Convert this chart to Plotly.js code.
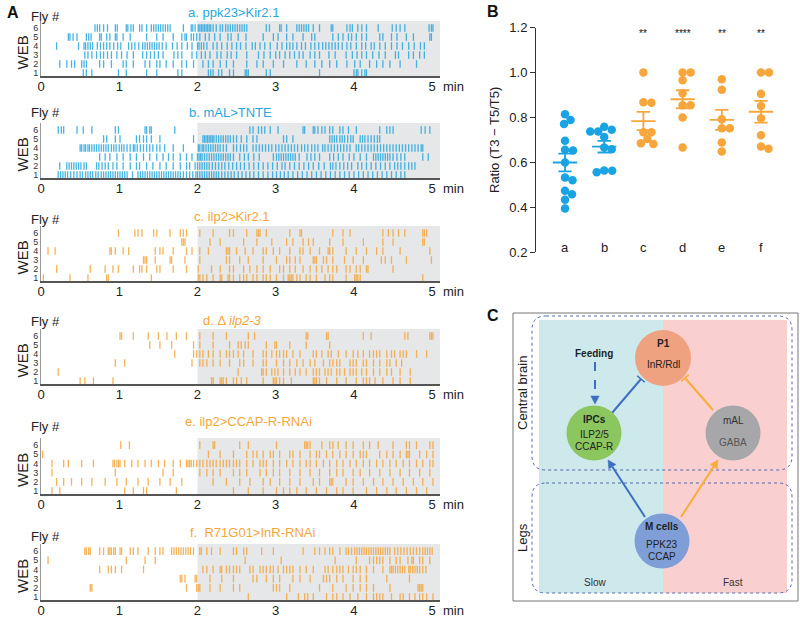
<!DOCTYPE html>
<html><head><meta charset="utf-8">
<script src="https://cdn.plot.ly/plotly-3.0.1.min.js"></script>
<style>html,body{margin:0;padding:0;background:#fff}#chart{width:800px;height:619px}</style>
</head><body><div id="chart"></div>
<script>
// ---------------- DATA ----------------
const timeTicks = [0, 1, 2, 3, 4, 5];
const flyTicks = [1, 2, 3, 4, 5, 6];
const panelTitles = ['a. ppk23>Kir2.1', 'b. mAL>TNTE', 'c. ilp2>Kir2.1', 'd. \u0394 <i>ilp2-3</i>', 'e. ilp2>CCAP-R-RNAi', 'f.  R71G01>InR-RNAi'];

// Raster event times (min); each array lists flies 1..6
const rasterA = [
  [0.54,0.58,0.65,0.99,1.09,1.35,1.48,1.75,1.80,2.14,2.17,2.20,2.27,2.31,2.41,2.46,2.61,2.63,2.65,2.88,2.93,3.56,4.00,4.03,4.05,4.10,4.14,4.16],
  [0.24,0.33,0.39,0.43,0.52,0.55,0.58,0.75,0.80,0.90,1.05,1.09,1.18,1.33,1.39,1.48,1.52,1.60,1.69,1.80,1.86,1.95,2.07,2.14,2.20,2.29,2.37,2.46,2.63,2.76,2.84,2.97,3.10,3.27,3.39,3.50,3.59,3.69,3.78,3.91,4.01,4.08,4.20,4.29,4.37,4.46,4.59,4.80],
  [0.56,0.60,0.65,0.71,0.76,0.80,0.85,0.90,0.97,1.03,1.10,1.18,1.30,1.35,1.40,1.45,1.50,1.56,1.70,1.75,1.80,1.93,1.99,2.05,2.10,2.16,2.25,2.30,2.38,2.43,2.50,2.63,2.78,2.85,2.93,3.00,3.05,3.12,3.18,3.24,3.30,3.35,3.44,3.50,3.56,3.68,3.76,3.90,3.98,4.04,4.10,4.16,4.24,4.32,4.40,4.53,4.57,4.70,4.76,4.84,4.90],
  [0.20,0.48,0.55,0.57,0.60,0.63,0.66,0.72,0.76,0.80,0.84,0.88,0.93,0.98,1.02,1.12,1.16,1.20,1.25,1.30,1.33,1.36,1.39,1.42,1.45,1.48,1.51,1.55,1.60,1.68,1.74,1.80,1.87,1.93,2.00,2.02,2.05,2.08,2.12,2.20,2.25,2.31,2.38,2.44,2.50,2.55,2.62,2.70,2.74,2.80,2.86,2.93,3.02,3.08,3.14,3.18,3.22,3.27,3.33,3.38,3.45,3.50,3.55,3.60,3.64,3.68,3.72,3.76,3.80,3.85,3.91,3.96,4.03,4.10,4.15,4.22,4.26,4.33,4.40,4.48,4.55,4.62,4.70,4.77,4.85,4.90],
  [0.35,0.37,0.41,0.46,0.58,0.61,0.64,0.75,0.77,0.84,0.88,0.95,0.97,1.05,1.14,1.35,1.48,1.56,1.69,1.80,1.84,1.86,1.92,1.95,1.99,2.03,2.10,2.15,2.22,2.29,2.39,2.43,2.52,2.62,2.84,2.97,3.03,3.14,3.22,3.35,3.46,3.50,3.73,3.80,3.86,3.93,3.97,4.03,4.10,4.16,4.33,4.37,4.48,4.55,4.67,4.76,4.97,4.99],
  [0.69,0.72,0.75,0.80,0.85,0.95,0.975,1.09,1.11,1.15,1.18,1.26,1.29,1.35,1.41,1.44,1.47,1.50,1.53,1.56,1.59,1.62,1.65,1.82,1.92,1.94,1.97,2.01,2.03,2.05,2.07,2.09,2.11,2.13,2.15,2.17,2.20,2.24,2.29,2.32,2.36,2.39,2.42,2.45,2.48,2.51,2.54,2.57,2.60,2.63,2.88,2.92,3.05,3.07,3.14,3.27,3.30,3.33,3.36,3.39,3.42,3.48,3.56,3.71,3.73,3.91,3.95,3.98,4.05,4.10,4.16,4.31,4.49,4.54,4.59,4.65,4.96,4.99,5.01]
];
const rasterB = [
  [0.22,0.25,0.28,0.31,0.34,0.38,0.42,0.46,0.50,0.53,0.57,0.60,0.63,0.66,0.70,0.73,0.77,0.80,0.83,0.86,0.89,0.92,0.95,0.98,1.01,1.04,1.07,1.10,1.17,1.24,1.27,1.30,1.33,1.36,1.39,1.42,1.45,1.48,1.51,1.54,1.57,1.60,1.63,1.66,1.69,1.72,1.75,1.78,1.82,1.86,1.90,1.94,1.98,2.00,2.03,2.06,2.09,2.12,2.15,2.18,2.21,2.24,2.27,2.31,2.35,2.39,2.43,2.47,2.52,2.57,2.62,2.67,2.72,2.78,2.84,2.90,2.96,3.01,3.06,3.11,3.16,3.22,3.28,3.34,3.40,3.46,3.52,3.58,3.64,3.70,3.76,3.82,3.88,3.94,4.00,4.06,4.12,4.18,4.24,4.30,4.36,4.42,4.48,4.54,4.60,4.65],
  [0.24,0.33,0.36,0.39,0.42,0.45,0.48,0.51,0.55,0.58,0.71,0.74,0.78,0.82,0.86,0.92,0.97,1.05,1.14,1.22,1.26,1.35,1.43,1.52,1.60,1.69,1.78,1.86,1.90,1.97,2.00,2.03,2.06,2.09,2.12,2.15,2.19,2.23,2.27,2.31,2.35,2.40,2.45,2.50,2.55,2.60,2.66,2.72,2.78,2.84,2.90,2.96,3.02,3.08,3.12,3.18,3.24,3.30,3.36,3.42,3.48,3.55,3.62,3.70,3.73,3.77,3.82,3.87,3.92,3.97,4.05,4.10,4.16,4.22,4.28,4.34,4.40,4.46,4.52,4.56,4.60,4.65,4.70,4.74,4.78],
  [0.75,0.82,0.88,0.97,1.05,1.14,1.22,1.31,1.39,1.48,1.56,1.63,1.69,1.78,1.86,1.93,2.00,2.02,2.04,2.06,2.09,2.12,2.15,2.18,2.21,2.24,2.27,2.30,2.33,2.36,2.39,2.42,2.46,2.54,2.60,2.65,2.72,2.79,2.97,3.01,3.04,3.07,3.10,3.13,3.16,3.19,3.22,3.25,3.30,3.40,3.45,3.50,3.56,3.69,3.74,3.80,3.86,3.94,4.00,4.08,4.16,4.25,4.28,4.31,4.34,4.37,4.40,4.43,4.46,4.50,4.55,4.60,4.65,4.88,4.95],
  [0.50,0.52,0.55,0.57,0.60,0.62,0.65,0.68,0.71,0.74,0.77,0.80,0.83,0.86,0.90,0.93,0.96,1.00,1.03,1.06,1.10,1.14,1.18,1.20,1.23,1.27,1.31,1.35,1.39,1.43,1.48,1.52,1.58,1.69,1.82,2.01,2.03,2.06,2.08,2.11,2.14,2.17,2.20,2.23,2.26,2.29,2.33,2.37,2.46,2.50,2.55,2.59,2.63,2.71,2.75,2.79,2.83,2.87,2.91,2.95,3.00,3.04,3.08,3.12,3.16,3.20,3.24,3.28,3.33,3.37,3.41,3.46,3.50,3.54,3.60,3.63,3.67,3.71,3.75,3.79,3.83,3.87,3.91,3.95,4.03,4.06,4.10,4.14,4.18,4.22,4.26,4.30,4.34,4.38,4.42,4.46,4.50,4.54,4.58,4.62,4.66,4.70,4.74,4.78,4.82,4.86,4.88],
  [0.80,0.84,0.95,1.01,1.22,1.26,1.31,1.35,1.41,1.52,1.95,2.07,2.09,2.11,2.13,2.15,2.17,2.19,2.21,2.24,2.27,2.30,2.33,2.36,2.39,2.42,2.46,2.50,2.56,2.63,2.71,2.76,3.10,3.14,3.22,3.69,3.72,3.75,3.78,3.82,3.85,3.88,3.92,3.96,3.99,4.08,4.11,4.14,4.18,4.22,4.26,4.30,4.33],
  [0.22,0.26,0.29,0.46,0.54,0.65,0.95,0.99,1.33,1.35,1.39,1.41,1.71,2.67,2.71,2.78,2.82,2.86,2.93,3.03,3.35,3.37,3.48,3.50,3.54,3.59,3.63,3.69,3.73,3.82,3.86,3.93,4.03,4.33,4.42,4.46,4.50,4.86,4.91,4.97]
];
const rasterC = [
  [0.03,0.37,0.60,0.84,0.86,1.41,2.01,2.03,2.07,2.12,2.20,2.29,2.31,2.39,2.41,2.46,2.54,2.59,2.63,2.71,2.76,2.84,2.88,2.93,3.01,3.10,3.16,3.18,3.20,3.22,3.27,3.31,3.39,3.44,3.52,3.63,3.69,3.73,3.90,4.01,4.03,4.05,4.08,4.88],
  [0.20,0.63,0.82,0.92,0.99,1.18,1.26,1.29,1.35,1.48,1.52,1.69,1.86,2.01,2.18,2.29,2.41,2.46,2.59,2.67,2.76,2.84,2.93,3.05,3.10,3.18,3.25,3.35,3.44,3.52,3.59,3.67,3.73,3.78,3.90,3.95,4.03,4.08,4.16,4.18,4.50],
  [1.31,1.33,1.35,1.46,1.65,1.67,1.84,2.03,2.37,2.41,2.54,2.65,2.84,3.01,3.14,3.18,3.25,3.31,3.48,3.50,3.52,3.61,3.65,3.73,3.88,3.99,4.12,4.35,4.40,4.48,4.67,4.99],
  [0.09,0.18,0.88,0.90,0.95,1.05,1.12,1.46,1.52,1.56,1.69,1.86,1.93,2.03,2.14,2.37,2.39,2.41,2.50,2.61,2.71,2.84,2.88,2.97,3.05,3.18,3.31,3.35,3.44,3.56,3.67,3.69,3.73,3.90,4.03,4.16,4.29,4.37,4.59,4.97],
  [1.80,1.82,1.84,2.16,2.29,2.59,2.76,2.95,3.14,3.22,3.35,3.42,3.48,3.69,3.86,4.12,4.37,4.50,4.88,4.90],
  [0.99,1.20,1.24,1.29,1.44,1.48,1.65,1.78,1.82,1.86,2.03,2.20,2.41,2.46,2.63,2.76,2.78,2.80,2.88,3.18,3.31,3.33,3.73,3.86,3.95,4.37,4.44,4.50,4.57,4.65,4.88,4.90,4.93]
];
const rasterD = [
  [0.50,0.56,0.67,0.92,2.18,2.20,2.29,2.31,2.33,2.37,2.46,2.50,2.56,2.63,2.84,2.97,2.99,3.01,3.05,3.10,3.20,3.48,3.50,3.52,3.56,3.65,3.78,3.90,4.03,4.12,4.16,4.20,4.27,4.37,4.50,4.59,4.72],
  [0.22,2.52,2.82,2.84,2.88,2.95,2.99,3.03,3.10,3.18,3.25,3.31,3.39,3.48,3.52,3.56,3.63,3.67,3.71,3.78,3.82,3.88,3.95,3.99,4.03,4.10,4.16,4.25,4.33,4.42,4.48,4.59,4.72],
  [0.95,1.07,1.93,2.03,2.07,2.12,2.20,2.29,2.41,2.54,2.59,2.71,2.84,2.88,3.01,3.10,3.18,3.27,3.35,3.44,3.50,3.61,3.69,3.73,3.78,3.82,3.95,3.99,4.03,4.12,4.16,4.25,4.33,4.42,4.46,4.54,4.61],
  [1.71,1.95,1.99,2.03,2.07,2.14,2.20,2.29,2.37,2.41,2.46,2.52,2.59,2.71,2.84,2.88,2.95,3.01,3.05,3.10,3.14,3.22,3.31,3.48,3.52,3.59,3.67,3.71,3.80,3.90,3.99,4.05,4.12,4.20,4.25,4.29,4.33,4.42,4.48,4.52,4.59,4.63,4.67,4.80,4.93],
  [1.39,1.52,1.67,1.95,2.03,2.20,2.41,2.52,2.56,2.61,2.65,2.88,2.99,3.01,3.18,3.39,3.69],
  [1.01,1.03,1.18,1.37,1.50,1.61,1.73,1.86,2.03,2.20,2.37,2.65,2.73,3.39,3.41,3.65,3.67,4.12,4.22,4.65,4.69,4.97,4.99,5.01]
];
const rasterE = [
  [0.14,0.24,1.07,1.18,1.31,1.35,1.73,2.46,2.65,2.84,3.01,3.10,3.18,3.27,3.39,3.52,3.65,3.78,3.86,3.99,4.16,4.29,4.42,4.54,4.67,4.80,4.93],
  [0.20,0.29,0.39,0.52,0.65,0.82,0.97,1.09,1.24,1.37,1.52,1.65,1.80,2.20,2.37,2.54,2.67,2.84,2.93,3.05,3.18,3.31,3.48,3.56,3.69,3.71,3.73,3.90,3.99,4.12,4.25,4.37,4.50,4.63,4.76,4.88,5.01],
  [0.14,0.95,1.56,1.69,2.03,2.12,2.20,2.29,2.46,2.54,2.63,2.80,2.88,2.97,3.05,3.18,3.31,3.44,3.56,3.69,3.78,3.86,3.99,4.08,4.20,4.33,4.46,4.59,4.71,4.84,4.97],
  [0.14,0.29,0.35,0.52,0.67,0.92,0.94,0.97,0.99,1.01,1.07,1.16,1.24,1.33,1.41,1.50,1.58,1.69,1.78,1.86,1.88,1.90,1.92,1.95,1.99,2.03,2.07,2.12,2.16,2.20,2.24,2.29,2.33,2.37,2.41,2.46,2.50,2.54,2.63,2.71,2.80,2.84,2.88,2.97,3.05,3.14,3.22,3.31,3.39,3.44,3.52,3.61,3.69,3.78,3.86,3.95,4.03,4.12,4.20,4.29,4.37,4.46,4.54,4.63,4.71,4.80,4.88,4.97,5.01],
  [0.02,2.14,2.29,2.46,2.63,2.71,2.76,2.84,2.93,2.97,3.05,3.18,3.22,3.31,3.44,3.52,3.56,3.65,3.73,3.82,3.90,3.99,4.08,4.12,4.16,4.33,4.42,4.50,4.59,4.67,4.69,4.71,4.84,4.93,5.01],
  [1.02,1.13,2.03,2.20,2.22,2.54,2.65,3.01,3.37,3.39,3.41,3.44,3.59,3.69,3.73,3.80,3.90,3.99,4.12,4.20,4.31,4.50,4.67,4.71,4.80,4.97,5.01]
];
const rasterF = [
  [2.65,3.14,3.29,3.37,3.41,3.48,3.65,3.73,3.78,3.86,3.95,4.05,4.16,4.25,4.29,4.33,4.37,4.48,4.59,4.63,4.71,4.78,4.84,4.88,4.93,5.01],
  [0.63,0.65,1.86,1.99,2.01,2.03,2.16,2.29,2.46,2.54,2.97,3.01,3.05,3.18,3.56,3.73,3.90,3.99,4.08,4.16,4.25,4.46,4.82,4.84,4.86,4.88],
  [1.78,1.80,1.84,1.97,1.99,2.16,2.31,2.46,2.71,2.76,2.88,2.97,3.05,3.22,3.31,3.44,3.61,3.65,3.69,3.78,3.86,3.99,4.08,4.16,4.42,4.71],
  [0.75,0.86,0.90,0.95,1.03,1.31,2.07,2.12,2.20,2.29,2.31,2.37,2.41,2.46,2.50,2.54,2.67,2.71,2.80,2.84,2.88,2.93,2.97,3.03,3.10,3.14,3.18,3.22,3.31,3.39,3.48,3.63,3.67,3.73,3.78,3.82,3.86,3.93,3.99,4.03,4.08,4.16,4.25,4.37,4.46,4.48,4.50,4.53,4.56,4.59,4.62,4.65,4.70,4.72,4.75,4.78,4.81,4.84,4.88,4.92],
  [0.09,1.09,1.33,1.46,2.61,3.07,3.76,4.03,4.20,4.25,4.29,4.33,4.37,4.46,4.54,4.59,4.69,4.74,4.76,4.84,4.88,4.97],
  [0.56,0.58,0.61,0.63,0.75,0.80,0.86,0.88,0.90,0.93,0.95,1.01,1.03,1.14,1.18,1.24,1.37,1.46,1.52,1.56,1.67,1.70,1.73,1.76,1.79,1.82,1.85,1.88,1.91,1.95,2.03,2.05,2.12,2.18,2.29,2.46,2.50,2.59,2.63,2.82,2.97,3.35,3.50,3.56,3.63,3.69,3.73,3.82,3.90,3.93,3.97,4.01,4.04,4.07,4.10,4.13,4.16,4.19,4.22,4.25,4.28,4.31,4.34,4.37,4.40,4.43,4.46,4.52,4.56,4.60,4.64,4.68,4.72,4.76,4.80,4.84,4.88,4.91,4.94,4.97,5.00]
];

// Panel B: ratio values per group
const groupNames = ['a', 'b', 'c', 'd', 'e', 'f'];
const ratioA = [0.814,0.771,0.789,0.696,0.653,0.656,0.599,0.532,0.520,0.473,0.457,0.433,0.394];
const ratioB = [0.737,0.737,0.745,0.758,0.713,0.666,0.658,0.556,0.563,0.562];
const ratioC = [1.0,0.868,0.865,0.734,0.734,0.681,0.704,0.685];
const ratioD = [1.0,1.0,0.966,0.908,0.854,0.854,0.800,0.666];
const ratioE = [0.970,0.923,0.792,0.752,0.752,0.688,0.648];
const ratioF = [1.0,1.0,0.905,0.851,0.796,0.721,0.660,0.670];
const sigLabels = ['', '', '**', '****', '**', '**'];
const ratioTicks = [0.2, 0.4, 0.6, 0.8, 1.0, 1.2];

// ---------------- STYLE / LAYOUT ----------------
const FONT = 'Liberation Sans, Arial, sans-serif';
const BLUE = '#27A8E0', ORANGE = '#F6A63A';
const W = 800, H = 619;
const dom = (top, bot) => [1 - bot / H, 1 - top / H];

const panels = [
  {rows: rasterA, color: BLUE,   top: 21,  bot: 76,  titleY: 12,  flyY: 16,  tx: 233},
  {rows: rasterB, color: BLUE,   top: 123, bot: 178, titleY: 112, flyY: 112, tx: 230},
  {rows: rasterC, color: ORANGE, top: 226, bot: 281, titleY: 216, flyY: 219, tx: 232},
  {rows: rasterD, color: ORANGE, top: 329, bot: 384, titleY: 320, flyY: 321, tx: 232},
  {rows: rasterE, color: ORANGE, top: 438, bot: 494, titleY: 421, flyY: 426, tx: 248},
  {rows: rasterF, color: ORANGE, top: 544, bot: 600, titleY: 532, flyY: 536, tx: 252}
];

const traces = [];
const shapes = [];
const annotations = [];
const layout = {
  width: W, height: H, autosize: false,
  margin: {l: 0, r: 0, t: 0, b: 0, pad: 0},
  paper_bgcolor: '#fff', plot_bgcolor: 'rgba(0,0,0,0)',
  font: {family: FONT, color: '#222'},
  showlegend: false, hovermode: false
};
const A = (x, y, text, opts) => annotations.push(Object.assign({xref: 'x8', yref: 'y8', x, y, text, showarrow: false, font: {family: FONT, size: 13, color: '#222'}}, opts || {}));

panels.forEach((p, k) => {
  const n = k + 1;
  const xa = n === 1 ? 'x' : 'x' + n, ya = n === 1 ? 'y' : 'y' + n;
  const x = [], y = [];
  p.rows.forEach((times, i) => {
    const fly = flyTicks[i];
    times.forEach(t => { x.push(t, t, null); y.push(fly - 0.42, fly + 0.42, null); });
  });
  traces.push({type: 'scatter', mode: 'lines', x, y, xaxis: xa, yaxis: ya,
    line: {color: p.color, width: 1.3}, opacity: 0.85, hoverinfo: 'skip'});
  layout['xaxis' + (n === 1 ? '' : n)] = {
    domain: [41 / W, 440 / W], range: [0, 5.1], anchor: ya, showline: true, linecolor: '#555', linewidth: 1.5,
    ticks: '', ticklabelstandoff: -2, tickvals: timeTicks, ticktext: timeTicks.map(String), tickfont: {size: 13, color: '#222', family: FONT},
    showgrid: false, zeroline: false, fixedrange: true
  };
  layout['yaxis' + (n === 1 ? '' : n)] = {
    domain: dom(p.top, p.bot), range: [0.67, 6.78], anchor: xa, showline: true, linecolor: '#999', linewidth: 1,
    ticks: '', tickvals: flyTicks, ticktext: flyTicks.map(String), tickfont: {size: 9, color: '#333', family: FONT},
    showgrid: false, zeroline: false, fixedrange: true
  };
  shapes.push({type: 'rect', xref: xa, yref: ya + ' domain', x0: 2, x1: 5.1, y0: 0, y1: 1,
    fillcolor: '#E6E7E8', line: {width: 0}, layer: 'below'});
  A(p.tx, p.titleY, panelTitles[k], {font: {family: FONT, size: 13, color: p.color}});
  A(45, p.flyY, 'Fly #', {font: {family: FONT, size: 13, color: '#222'}});
  A(22, (p.top + p.bot) / 2 + 4, 'WEB', {textangle: -90, font: {family: FONT, size: 15, color: '#222'}});
  A(441, p.bot + 10, 'min', {xanchor: 'left', font: {family: FONT, size: 13, color: '#222'}});
});

// pixel-space overlay axis for texts and diagram
layout.xaxis8 = {domain: [0, 1], range: [0, W], visible: false, anchor: 'y8', fixedrange: true};
layout.yaxis8 = {domain: [0, 1], range: [H, 0], visible: false, anchor: 'x8', fixedrange: true};

// ---------------- PANEL B ----------------
const bX0 = 536, bX1 = 790, bTop = 27.7, bBot = 252;
const bxRange = [-0.74, 5.74];
const xScale = (bX1 - bX0) / (bxRange[1] - bxRange[0]);
const yScale = (bBot - bTop) / 1.0;
layout.xaxis7 = {domain: [bX0 / W, bX1 / W], range: bxRange, anchor: 'y7', visible: false, fixedrange: true};
layout.yaxis7 = {domain: dom(bTop, bBot), range: [0.2, 1.2], anchor: 'x7', showline: true, linecolor: '#333', linewidth: 1,
  ticks: 'outside', ticklen: 5, tickwidth: 1, tickcolor: '#333', tickvals: ratioTicks, tickformat: '.1f',
  tickfont: {size: 13, color: '#222', family: FONT}, showgrid: false, zeroline: false, fixedrange: true};

function swarm(vals, d) {
  const idx = vals.map((v, i) => i).sort((a, b) => vals[b] - vals[a]);
  const placed = [], off = new Array(vals.length);
  idx.forEach(i => {
    const yp = vals[i] * yScale;
    let best = null;
    for (let k = 0; k < 400 && best === null; k++) {
      const cands = k === 0 ? [0] : [k * 0.5, -k * 0.5];
      for (const c of cands) {
        if (placed.every(p => Math.hypot(p.x - c, p.y - yp) >= d)) { best = c; break; }
      }
    }
    placed.push({x: best, y: yp}); off[i] = best;
  });
  return off;
}
const groups = [ratioA, ratioB, ratioC, ratioD, ratioE, ratioF];
const gColors = [BLUE, BLUE, ORANGE, ORANGE, ORANGE, ORANGE];
groups.forEach((vals, i) => {
  const off = swarm(vals, 7.6);
  const col = gColors[i] === BLUE ? '#1AA3E3' : '#F7A63C';
  traces.push({type: 'scatter', mode: 'markers', xaxis: 'x7', yaxis: 'y7',
    x: vals.map((v, j) => i + off[j] / xScale), y: vals,
    marker: {size: 8.5, color: col, line: {width: 0}}, hoverinfo: 'skip'});
  const m = vals.reduce((s, v) => s + v, 0) / vals.length;
  const sd = Math.sqrt(vals.reduce((s, v) => s + (v - m) * (v - m), 0) / (vals.length - 1));
  const se = sd / Math.sqrt(vals.length);
  traces.push({type: 'scatter', mode: 'lines', xaxis: 'x7', yaxis: 'y7',
    x: [i - 0.31, i + 0.31, null, i, i, null, i - 0.17, i + 0.17, null, i - 0.17, i + 0.17],
    y: [m, m, null, m - se, m + se, null, m + se, m + se, null, m - se, m - se],
    line: {color: col, width: 1.8}, hoverinfo: 'skip'});
  annotations.push({xref: 'x7', yref: 'y7', x: i, y: 0.222, text: groupNames[i], showarrow: false,
    font: {family: FONT, size: 13, color: '#222'}});
  if (sigLabels[i]) annotations.push({xref: 'x7', yref: 'y7', x: i, y: 1.172, text: sigLabels[i], showarrow: false,
    font: {family: FONT, size: 10, color: '#111'}});
});
A(494, 140, 'Ratio (T3 \u2212 T5/T5)', {textangle: -90, font: {family: FONT, size: 13, color: '#222'}});

// Panel letters
A(13, 12, '<b>A</b>', {font: {family: FONT, size: 16, color: '#111'}});
A(493, 11, '<b>B</b>', {font: {family: FONT, size: 16, color: '#111'}});
A(493, 315, '<b>C</b>', {font: {family: FONT, size: 16, color: '#111'}});

// ---------------- PANEL C (diagram) ----------------
const S = (o) => shapes.push(Object.assign({xref: 'x8', yref: 'y8'}, o));
function rrect(x0, y0, x1, y1, r) {
  return `M${x0 + r},${y0} L${x1 - r},${y0} Q${x1},${y0} ${x1},${y0 + r} L${x1},${y1 - r} Q${x1},${y1} ${x1 - r},${y1} L${x0 + r},${y1} Q${x0},${y1} ${x0},${y1 - r} L${x0},${y0 + r} Q${x0},${y0} ${x0 + r},${y0} Z`;
}
function arrow(x0, y0, x1, y1, color, kind, dash) {
  const dx = x1 - x0, dy = y1 - y0, L = Math.hypot(dx, dy), ux = dx / L, uy = dy / L, px = -uy, py = ux;
  if (kind === 'head') {
    const len = 8, w = 4.2, bx = x1 - ux * len, by = y1 - uy * len;
    S({type: 'line', x0, y0, x1: bx, y1: by, line: {color, width: 2, dash: dash || 'solid'}});
    S({type: 'path', path: `M${x1},${y1} L${bx + px * w},${by + py * w} L${bx - px * w},${by - py * w} Z`, fillcolor: color, line: {color, width: 0.5}});
  } else {
    const w = 5;
    S({type: 'line', x0, y0, x1, y1, line: {color, width: 2}});
    S({type: 'line', x0: x1 + px * w, y0: y1 + py * w, x1: x1 - px * w, y1: y1 - py * w, line: {color, width: 1.6}});
  }
}
S({type: 'rect', x0: 513, y0: 313, x1: 798, y1: 601, line: {color: '#777', width: 1}, fillcolor: 'rgba(0,0,0,0)'});
S({type: 'rect', x0: 539, y0: 320, x1: 663, y1: 593, line: {width: 0}, fillcolor: '#CDE9EC'});
S({type: 'rect', x0: 663, y0: 320, x1: 787, y1: 593, line: {width: 0}, fillcolor: '#F9D0CF'});
S({type: 'path', path: rrect(532, 316, 792, 470, 14), line: {color: '#4F6DB3', width: 1, dash: 'dot'}, fillcolor: 'rgba(0,0,0,0)'});
S({type: 'path', path: rrect(532, 483, 792, 593, 14), line: {color: '#4F6DB3', width: 1, dash: 'dot'}, fillcolor: 'rgba(0,0,0,0)'});

const DBLUE = '#3F6FC2', DORANGE = '#F8AC3A';
arrow(645, 517, 608, 460, DBLUE, 'head');
arrow(612, 413, 641, 379, DBLUE, 'bar');
arrow(681, 517, 718, 460, DORANGE, 'head');
arrow(713, 410, 685, 378, DORANGE, 'bar');
arrow(595, 362, 595, 404, DBLUE, 'head', 'dash');

const circ = (cx, cy, r, fill) => S({type: 'circle', x0: cx - r, x1: cx + r, y0: cy - r, y1: cy + r, fillcolor: fill, line: {width: 0}});
circ(663, 358, 28, '#EFA27F');
circ(594, 433, 27.5, '#8BC65F');
circ(733, 433, 27.5, '#A7A7A9');
circ(662, 541, 27.5, '#7F9ED7');

const F10 = {family: FONT, size: 10, color: '#222'};
A(663, 343, '<b>P1</b>', {font: F10});
A(663, 364, 'InR/Rdl', {font: F10});
A(594, 419, '<b>IPCs</b>', {font: F10});
A(594, 434, 'ILP2/5', {font: F10});
A(594, 446, 'CCAP-R', {font: F10});
A(733, 420, 'mAL', {font: {family: FONT, size: 10, color: '#333'}});
A(733, 442, 'GABA', {font: {family: FONT, size: 10, color: '#555'}});
A(662, 526, '<b>M cells</b>', {font: F10});
A(662, 544, 'PPK23', {font: F10});
A(662, 556, 'CCAP', {font: F10});
A(594, 353, '<b>Feeding</b>', {font: F10});
A(595, 582, 'Slow', {font: {family: FONT, size: 10, color: '#333'}});
A(733, 582, 'Fast', {font: {family: FONT, size: 10, color: '#333'}});
A(522, 393, 'Central brain', {textangle: -90, font: {family: FONT, size: 13, color: '#222'}});
A(522, 538, 'Legs', {textangle: -90, font: {family: FONT, size: 13, color: '#222'}});

layout.shapes = shapes;
layout.annotations = annotations;
Plotly.newPlot('chart', traces, layout, {staticPlot: true, displayModeBar: false});
</script>
</body></html>
